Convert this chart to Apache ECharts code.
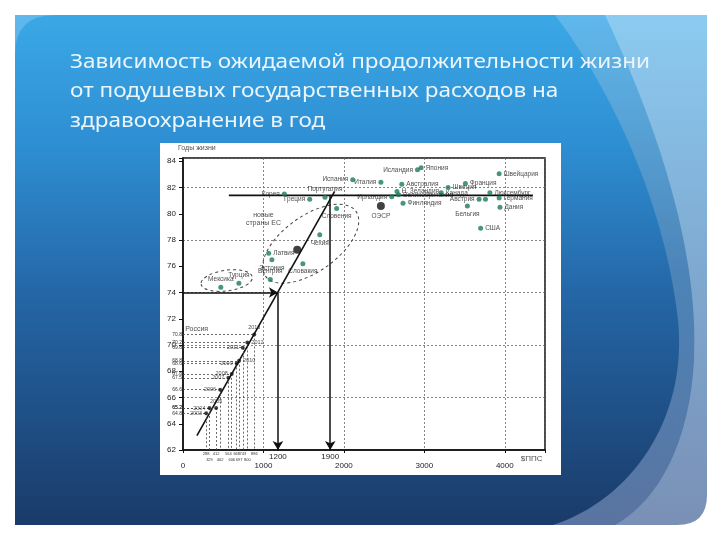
<!DOCTYPE html>
<html><head><meta charset="utf-8">
<script src="https://cdn.jsdelivr.net/npm/echarts@6/dist/echarts.min.js"></script>
<style>html,body{margin:0;padding:0;background:#fff}#c{width:720px;height:540px}</style>
</head><body><div id="c"></div><script>
// ---------- data ----------
const titleLines = ['Зависимость ожидаемой продолжительности жизни',
  'от подушевых государственных расходов на',
  'здравоохранение в год'];
const countryNames = ['Испания','Италия','Исландия','Япония','Швейцария','Австралия','Н. Зеландия',
  'Великобритания','Ирландия','Финляндия','Франция','Швеция','Канада','Люксембург','Австрия',
  'Нидерланды','Германия','Дания','Бельгия','США',
  'Корея','Португалия','Греция','Словения','Чехия','Латвия','Эстония','Словакия','Венгрия','Мексика','Турция'];
const countrySpend = [2110,2460,2915,2960,3930,2720,2660,2680,2595,2735,3510,3295,3210,3815,3680,
  3760,3930,3940,3535,3700,
  1260,1765,1575,1910,1700,1065,1105,1490,1085,470,695];
const countryLife = [82.6,82.4,83.35,83.5,83.05,82.25,81.7,81.45,81.3,80.8,82.3,82.0,81.6,81.6,81.1,
  81.1,81.2,80.5,80.6,78.9,
  81.5,81.25,81.1,80.4,78.4,77.0,76.5,76.2,75.0,74.4,74.7];
const avgNames = ['ОЭСР',''];
const avgSpend = [2460,1420];
const avgLife = [80.6,77.25];
const russiaYears = [2003,2004,2005,2006,2007,2008,2009,2010,2011,2012,2013];
const russiaSpend = [288,329,412,462,564,606,668,697,743,800,886];
const russiaLife = [64.8,65.2,65.2,66.6,67.5,67.8,68.6,68.8,69.8,70.2,70.8];
const regressionX = [173,1885];
const regressionY = [63.1,81.7];
const levelX = [570,4350];
const levelY = 81.4;
const arrowLevel = 74;
const arrowX = [1180,1830];
const arrowText = ['1200','1900'];
const ellipseStart = [[1025,75.25],[225,74.64]];
const ellipseEnd = [[2150,80.18],[862,75.18]];
const noteTexts = ['Годы жизни','новые\nстраны ЕС','Россия','$ППС'];
const noteX = [-62,1000,170,4335];
const noteY = [85.0,79.6,71.2,61.3];
const xTicks = [0,1000,2000,3000,4000];
const yTicks = [62,64,66,68,70,72,74,76,78,80,82,84];

// ---------- styles ----------
const countryLabelSide = ['left','left','left','right','right','right','right','right','left','right',
  'right','right','right','right','left','none','right','right','bottom','right',
  'left','top','left','bottom','bottom','right','bottom','bottom','top','top','top'];
const russiaLabelSide = ['left','left','top','left','left','left','left','right','left','right','top'];
const ellipseRatio = [0.5,0.4];
const LF = 'Liberation Sans';

const chart = echarts.init(document.getElementById('c'));
const cv = document.createElement('canvas').getContext('2d');
const TFS = 20;
cv.font = TFS + 'px "Noto Sans"';
const tScale = 580 / cv.measureText(titleLines[0]).width;

const grad = (stops) => new echarts.graphic.LinearGradient(0,0,0,1,stops.map(c=>({offset:c[0],color:c[1]})));

function renderBackground(){
  return {type:'group', children:[
    {type:'path', shape:{pathData:'M15 55 Q15 15 55 15 L707 15 L707 495 Q707 525 677 525 L15 525 Z'},
      style:{fill:grad([[0,'#8ccbf1'],[0.5,'#7fa9d0'],[1,'#7a90b6']])}},
    {type:'path', shape:{pathData:'M15 15 L605 15 C655 120 700 250 694 360 C690 440 660 500 615 525 L15 525 Z'},
      style:{fill:grad([[0,'#60b8ec'],[0.5,'#4c84b8'],[1,'#5a74a0']])}},
    {type:'path', shape:{pathData:'M55 15 L555 15 C612 90 665 205 678 320 C688 420 630 500 553 525 L15 525 L15 55 Q15 15 55 15 Z'},
      style:{fill:grad([[0,'#3ba8e6'],[0.25,'#2e8fd3'],[0.55,'#2466a6'],[1,'#1a3b69']])}},
    {type:'rect', shape:{x:160,y:143,width:401,height:332}, style:{fill:'#ffffff'}}
  ]};
}

const graphic = titleLines.map((t,i)=>({type:'text', x:70, y:62 + i*29.5, scaleX:tScale,
    style:{text:t, font:TFS+'px "Noto Sans"', fill:'#eaf5fc', verticalAlign:'middle', align:'left'}}));

const russiaLines = [];
russiaYears.forEach((yr,i)=>{
  russiaLines.push([{coord:[0,russiaLife[i]], label:{show:true, position:'start', formatter:russiaLife[i].toFixed(1), fontSize:5, distance:1, color:'#333'}},
    {coord:[russiaSpend[i],russiaLife[i]]}]);
  russiaLines.push([{coord:[russiaSpend[i],russiaLife[i]], label:{show:true, position:'end', formatter:String(russiaSpend[i]), fontSize:4, distance: i%2 ? 8 : 2, color:'#333'}},
    {coord:[russiaSpend[i],62]}]);
});

const arrowLines = [
  [{coord:[0,arrowLevel]},{coord:[arrowX[0],arrowLevel]}]
];
arrowX.forEach((x,i)=>{
  const y0 = i===0 ? arrowLevel : levelY;
  arrowLines.push([{coord:[x,y0], label:{show:true, position:'end', formatter:arrowText[i], fontSize:8, distance:3, color:'#222', fontFamily:LF}},
    {coord:[x,62]}]);
});

function renderEllipse(params, api){
  const a = api.coord([api.value(0), api.value(1)]);
  const b = api.coord([api.value(2), api.value(3)]);
  const rx = Math.hypot(b[0]-a[0], b[1]-a[1]) / 2;
  const ry = rx*ellipseRatio[params.dataIndex];
  const ang = Math.atan2(b[1]-a[1], b[0]-a[0]);
  return {type:'path', x:(a[0]+b[0])/2, y:(a[1]+b[1])/2, rotation:-ang,
    shape:{pathData:`M ${-rx} 0 A ${rx} ${ry} 0 1 0 ${rx} 0 A ${rx} ${ry} 0 1 0 ${-rx} 0 Z`},
    style:{fill:null, stroke:'#444', lineWidth:1, lineDash:[3,3]}};
}

const option = {
  animation:false,
  graphic: graphic,
  grid:{left:183, right:175, top:158, bottom:90, show:true, borderColor:'#111', borderWidth:1.5,
    backgroundColor:'transparent', containLabel:false, outerBoundsMode:'none'},
  xAxis:{type:'value', min:0, max:4500, interval:1000,
    axisLine:{show:true, onZero:false, lineStyle:{color:'#111', width:1.5}},
    axisTick:{show:true, length:3, lineStyle:{color:'#111'}},
    axisLabel:{color:'#222', fontSize:8, margin:12, fontFamily:LF,
      formatter:v => xTicks.includes(v) ? String(v) : ''},
    splitLine:{show:true, lineStyle:{color:'#666', type:[2,2], width:0.8}}},
  yAxis:[
    {type:'value', min:62, max:84.25, interval:2,
      axisLine:{show:true, onZero:false, lineStyle:{color:'#111', width:1.5}},
      axisTick:{show:true, length:4, lineStyle:{color:'#111'}},
      axisLabel:{color:'#222', fontSize:8, margin:7, fontFamily:LF,
        formatter:v => yTicks.includes(v) ? String(v) : ''},
      splitLine:{show:false}},
    {type:'value', min:62, max:84.25, interval:4, position:'left',
      axisLine:{show:false}, axisTick:{show:false}, axisLabel:{show:false},
      splitLine:{show:true, lineStyle:{color:'#666', type:[2,2], width:0.8}}}
  ],
  series:[
    {type:'custom', name:'slide', coordinateSystem:'none', renderItem:renderBackground, data:[0], silent:true, z:-1},
    {type:'custom', name:'ellipses', renderItem:renderEllipse, silent:true, clip:false, z:3,
      data: ellipseStart.map((s,i)=>[s[0],s[1],ellipseEnd[i][0],ellipseEnd[i][1]])},
    {type:'line', name:'regression', symbol:'none', silent:true, z:4,
      lineStyle:{color:'#111', width:1.6},
      data: regressionX.map((x,i)=>[x,regressionY[i]])},
    {type:'line', name:'level', symbol:'none', silent:true, z:4,
      lineStyle:{color:'#111', width:1.6},
      data: levelX.map(x=>[x,levelY]),
      markLine:{silent:true, symbol:['none','arrow'], symbolSize:[8,9], animation:false,
        lineStyle:{color:'#111', width:1.5, type:'solid'}, label:{show:false},
        data: arrowLines}},
    {type:'scatter', name:'Россия', symbolSize:4, z:5, itemStyle:{color:'#111'},
      label:{show:true, formatter:'{b}', fontSize:5.5, color:'#222', distance:2, fontFamily:LF},
      data: russiaYears.map((yr,i)=>({name:String(yr), value:[russiaSpend[i],russiaLife[i]],
        label:{position:russiaLabelSide[i]}})),
      markLine:{silent:true, symbol:['none','none'], animation:false,
        lineStyle:{color:'#444', width:0.8, type:[2,2]}, label:{show:false},
        data: russiaLines}},
    {type:'scatter', name:'countries', symbolSize:5, z:5, itemStyle:{color:'#1b7a5a'},
      label:{show:true, formatter:'{b}', fontSize:6.5, color:'#222', distance:2, fontFamily:LF},
      data: countryNames.map((n,i)=>({name:n, value:[countrySpend[i],countryLife[i]],
        label: countryLabelSide[i]==='none' ? {show:false} : {position:countryLabelSide[i]}}))},
    {type:'scatter', name:'averages', symbolSize:8, z:5, itemStyle:{color:'#111'},
      label:{show:true, formatter:'{b}', fontSize:6.5, color:'#222', position:'bottom', distance:3, fontFamily:LF},
      data: avgNames.map((n,i)=>({name:n, value:[avgSpend[i],avgLife[i]]}))},
    {type:'scatter', name:'notes', symbolSize:0, clip:false, silent:true, z:6,
      label:{show:true, formatter:'{b}', fontSize:7, color:'#222', position:'inside', fontFamily:LF, lineHeight:8},
      data: noteTexts.map((t,i)=>({name:t, value:[noteX[i],noteY[i]],
        label: i===0 ? {position:'right', distance:0} : (i===3 ? {fontSize:8} : {})}))}
  ]
};
chart.setOption(option);
</script></body></html>
